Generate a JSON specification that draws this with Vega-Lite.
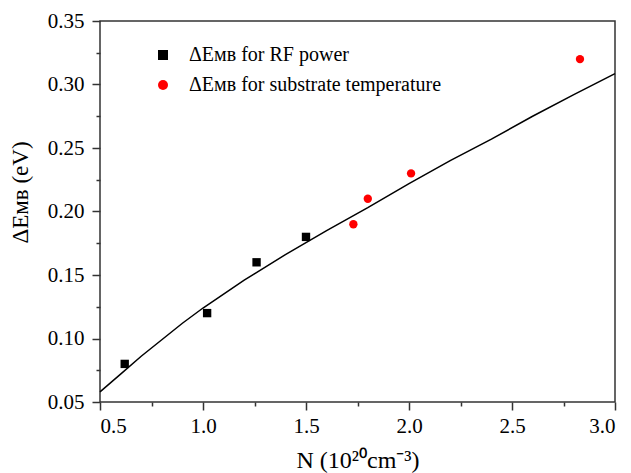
{
  "$schema": "https://vega.github.io/schema/vega-lite/v6.json",
  "width": 515,
  "height": 381,
  "autosize": {"type": "none"},
  "padding": {"left": 100, "top": 21, "right": 16, "bottom": 71},
  "background": "white",
  "config": {
    "font": "Liberation Serif",
    "view": {"stroke": "#333", "strokeWidth": 1.5},
    "axis": {
      "grid": false,
      "domain": false,
      "tickColor": "#333",
      "tickWidth": 1.5,
      "labelColor": "black",
      "labelFont": "Liberation Serif",
      "labelFontSize": 21,
      "titleFont": "Liberation Serif",
      "titleFontWeight": "normal",
      "titleColor": "black"
    },
    "legend": {"labelFont": "Liberation Serif"}
  },
  "datasets": {
    "curve": [
      {"N": 0.5, "dE": 0.058},
      {"N": 0.6, "dE": 0.072},
      {"N": 0.7, "dE": 0.086},
      {"N": 0.8, "dE": 0.099},
      {"N": 0.9, "dE": 0.112},
      {"N": 1.0, "dE": 0.124},
      {"N": 1.2, "dE": 0.146},
      {"N": 1.4, "dE": 0.166},
      {"N": 1.6, "dE": 0.185},
      {"N": 1.8, "dE": 0.203},
      {"N": 2.0, "dE": 0.222},
      {"N": 2.2, "dE": 0.240},
      {"N": 2.4, "dE": 0.257},
      {"N": 2.6, "dE": 0.275},
      {"N": 2.8, "dE": 0.292},
      {"N": 3.0, "dE": 0.3086}
    ],
    "points": [
      {"N": 0.62, "dE": 0.08, "series": "ΔEᴍʙ for RF power"},
      {"N": 1.02, "dE": 0.12, "series": "ΔEᴍʙ for RF power"},
      {"N": 1.26, "dE": 0.16, "series": "ΔEᴍʙ for RF power"},
      {"N": 1.50, "dE": 0.18, "series": "ΔEᴍʙ for RF power"},
      {"N": 1.73, "dE": 0.19, "series": "ΔEᴍʙ for substrate temperature"},
      {"N": 1.80, "dE": 0.21, "series": "ΔEᴍʙ for substrate temperature"},
      {"N": 2.01, "dE": 0.23, "series": "ΔEᴍʙ for substrate temperature"},
      {"N": 2.83, "dE": 0.32, "series": "ΔEᴍʙ for substrate temperature"}
    ]
  },
  "layer": [
    {
      "data": {"name": "curve"},
      "mark": {"type": "line", "color": "black", "strokeWidth": 1.5},
      "encoding": {
        "x": {
          "field": "N", "type": "quantitative",
          "scale": {"domain": [0.5, 3.0], "nice": false, "zero": false},
          "axis": {
            "orient": "bottom",
            "values": [0.5, 1.0, 1.5, 2.0, 2.5, 3.0],
            "format": ".1f",
            "tickSize": 8,
            "labelPadding": 5,
            "titleFontSize": 24,
            "titlePadding": 12,
            "title": "N (10²⁰cm⁻³)"
          }
        },
        "y": {
          "field": "dE", "type": "quantitative",
          "scale": {"domain": [0.05, 0.35], "nice": false, "zero": false},
          "axis": {
            "orient": "left",
            "values": [0.05, 0.1, 0.15, 0.2, 0.25, 0.3, 0.35],
            "format": ".2f",
            "tickSize": 8,
            "labelPadding": 8,
            "titleFontSize": 23,
            "titlePadding": 15,
            "titleY": 171,
            "title": "ΔEᴍʙ  (eV)"
          }
        }
      }
    },
    {
      "data": {"name": "points"},
      "mark": {"type": "point", "filled": true, "opacity": 1, "size": 70},
      "encoding": {
        "x": {
          "field": "N", "type": "quantitative",
          "axis": {
            "orient": "bottom",
            "values": [0.75, 1.25, 1.75, 2.25, 2.75],
            "tickSize": 4,
            "labels": false,
            "title": null
          }
        },
        "y": {
          "field": "dE", "type": "quantitative",
          "axis": {
            "orient": "left",
            "values": [0.075, 0.125, 0.175, 0.225, 0.275, 0.325],
            "tickSize": 4,
            "labels": false,
            "title": null
          }
        },
        "shape": {
          "field": "series", "type": "nominal",
          "scale": {"domain": ["ΔEᴍʙ for RF power", "ΔEᴍʙ for substrate temperature"], "range": ["square", "circle"]},
          "legend": {
            "orient": "none", "legendX": 53, "legendY": 24, "title": null,
            "labelFontSize": 20, "labelColor": "black", "labelFont": "Liberation Serif",
            "labelLimit": 500,
            "labelOffset": 16, "rowPadding": 10, "padding": 0, "symbolStrokeWidth": 0
          }
        },
        "color": {
          "field": "series", "type": "nominal",
          "scale": {"domain": ["ΔEᴍʙ for RF power", "ΔEᴍʙ for substrate temperature"], "range": ["black", "#ff0000"]},
          "legend": {
            "orient": "none", "legendX": 53, "legendY": 24, "title": null,
            "labelFontSize": 20, "labelColor": "black", "labelFont": "Liberation Serif",
            "labelLimit": 500,
            "labelOffset": 16, "rowPadding": 10, "padding": 0, "symbolStrokeWidth": 0
          }
        }
      }
    }
  ],
  "resolve": {"axis": {"x": "independent", "y": "independent"}}
}
